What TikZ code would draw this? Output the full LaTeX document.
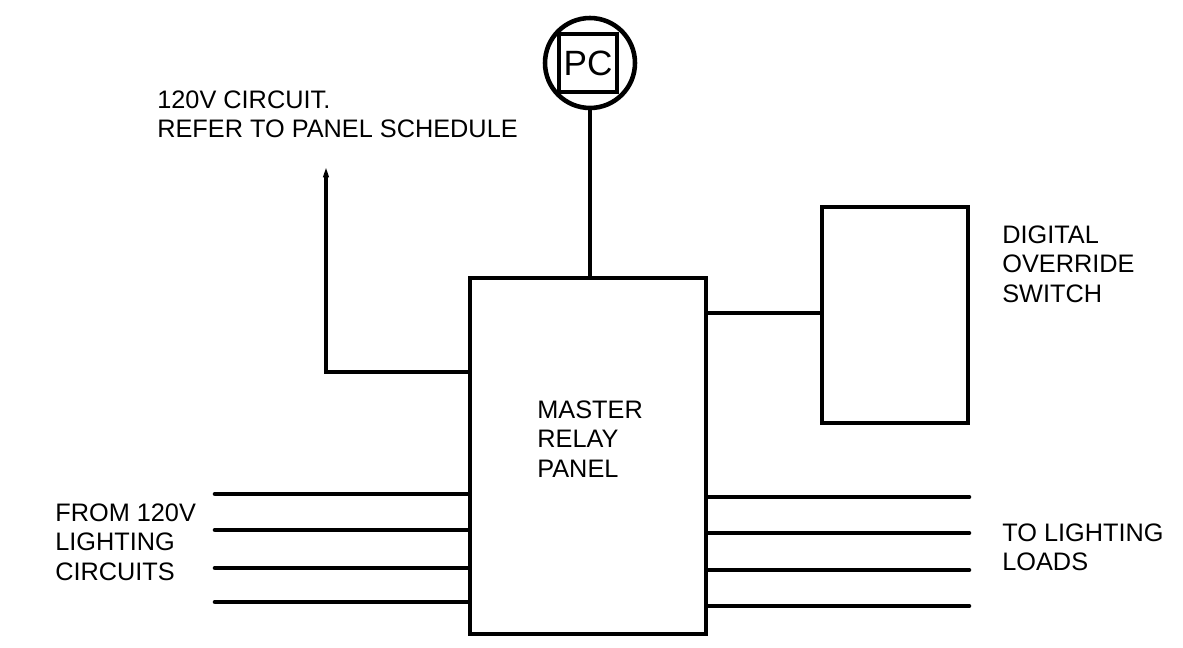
\documentclass[tikz,border=0pt]{standalone}
\usepackage{fontspec}
\setmainfont{Liberation Sans}
\usetikzlibrary{arrows.meta}
\tikzset{
    wire/.style={line width=2.6pt},
    boxline/.style={draw, line width=2.6pt, inner sep=0pt},
    lbl/.style={font=\fontsize{14.4}{16.9}\selectfont, align=left, inner sep=0pt, anchor=north west}
}
\begin{document}
\begin{tikzpicture}[x=0.02cm, y=-0.02cm]
    \useasboundingbox (0,0) rectangle (1183,648);
    % Master relay panel and override switch
    \node[boxline, minimum width=4.72cm, minimum height=7.12cm] (panel) at (588,456) {};
    \node[lbl] (paneltxt) at (537,400) {MASTER\\RELAY\\PANEL};
    \node[boxline, minimum width=2.92cm, minimum height=4.32cm] (switch) at (895,315) {};
    \node[lbl] (switchtxt) at (1002,225) {DIGITAL\\OVERRIDE\\SWITCH};
    % PC symbol
    \node[boxline, circle, minimum size=1.8cm] (pc) at (590,63) {};
    \node[boxline, minimum size=1.16cm, font=\fontsize{20}{24}\selectfont] (pcbox) at (588,63) {PC};
    \draw[wire] (pc.south) -- (pc.south |- panel.north);
    % Panel to switch
    \coordinate (swlink) at (822,313);
    \draw[wire] (panel.east |- swlink) -- (switch.west |- swlink);
    % 120V circuit feed
    \coordinate (feedtop) at (326,165);
    \draw[wire, -{Triangle[length=7pt, width=2.8pt]}] (panel.west |- 0,372) -| (feedtop);
    \node[lbl] (feedtxt) at (157,90) {120V CIRCUIT.\\REFER TO PANEL SCHEDULE};
    % Lighting circuits in and loads out
    \foreach \i/\yin/\yout in {1/494/497, 2/530/533, 3/568/570, 4/602/606} {
        \coordinate (in\i) at (215,\yin);
        \coordinate (out\i) at (969,\yout);
        \draw[wire, line cap=round] (in\i) -- (in\i -| panel.west);
        \draw[wire, line cap=round] (out\i -| panel.east) -- (out\i);
    }
    \node[lbl] (intxt) at (55,503) {FROM 120V\\LIGHTING\\CIRCUITS};
    \node[lbl] (outtxt) at (1002,523) {TO LIGHTING\\LOADS};
\end{tikzpicture}
\end{document}
